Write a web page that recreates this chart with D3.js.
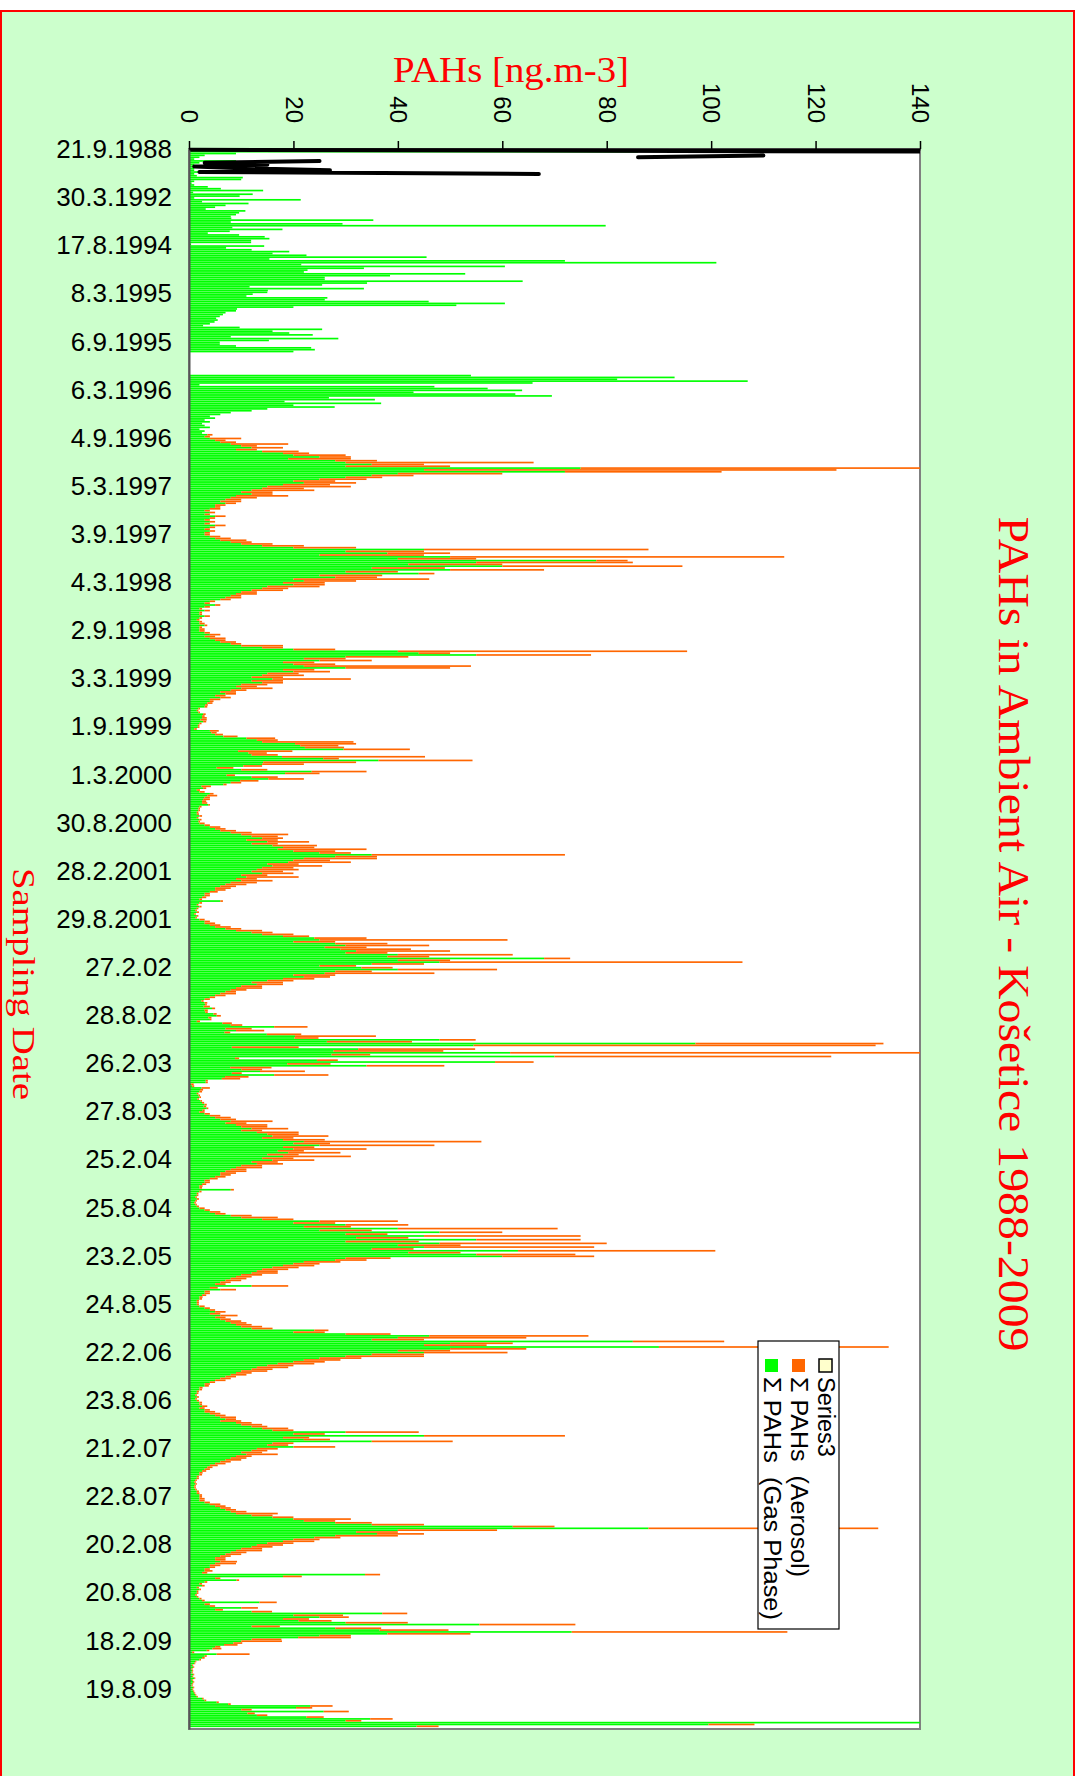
<!DOCTYPE html>
<html>
<head>
<meta charset="utf-8">
<script src="https://cdn.jsdelivr.net/npm/d3@7"></script>
<style>
    body { margin: 0; background: #fff; }
    #chart { width: 1080px; height: 1776px; }
</style>
</head>
<body>
<div id="chart"></div>
<script>

// category labels, one every 26 samples
const dateLabels = ['21.9.1988', '30.3.1992', '17.8.1994', '8.3.1995', '6.9.1995', '6.3.1996', '4.9.1996',
    '5.3.1997', '3.9.1997', '4.3.1998', '2.9.1998', '3.3.1999', '1.9.1999', '1.3.2000', '30.8.2000',
    '28.2.2001', '29.8.2001', '27.2.02', '28.8.02', '26.2.03', '27.8.03', '25.2.04', '25.8.04', '23.2.05',
    '24.8.05', '22.2.06', '23.8.06', '21.2.07', '22.8.07', '20.2.08', '20.8.08', '18.2.09', '19.8.09'];
const labelStep = 26;
const valueTicks = [0, 20, 40, 60, 80, 100, 120, 140];

// Σ PAHs (Gas Phase), one row per label period
const gasPhase = [
    2, 86, 9, 3, 2, 1, 9, 2, 1, 3, 1, 1, 2, 1, 1.5, 10.3, 10, 1, 0.5, 1, 3.6, 6.1, 14.2, 0.8, 12.2, 9.7,
    1, 21.4, 2.5, 11.4, 7, 5, 3.2, 10.8, 9.6, 9, 8, 8.1, 35.3, 8, 29.4, 79.8, 8.3, 17.9, 7.8, 3.6, 9.6, 14.5, 15.4, 11.9, 11.9, 0.4,
    14.4, 7.1, 12, 19.2, 16, 22.5, 45.5, 15.4, 72, 101, 21.5, 60.5, 33.5, 22.7, 22, 52.9, 38.5, 26, 26, 63.9, 34.1, 25.5, 11.6, 33.5, 15.1, 15,
    12.2, 11, 26.5, 26, 45.9, 60.5, 51.2, 20, 9.2, 9, 7, 6.5, 5.9, 5.2, 5.5, 4.9, 4, 2.7, 9.7, 25.5, 16, 19.2, 23.7, 8, 28.6, 15.3,
    5.9, 5.9, 9, 23.4, 24.1, 20, 0, 0, 0, 0, 0, 0, 0, 0, 0, 0, 0, 0, 54, 93, 82, 107, 65.8, 2, 47, 57.2,
    63.8, 43, 62.5, 69.5, 26.8, 35.6, 18.3, 36.8, 20, 27.9, 15, 12, 8, 6, 4, 5, 3, 4, 2.5, 3, 4, 2, 3, 2.5, 3.5, 3,
    4, 5, 6, 8, 10, 12, 9, 14, 18, 20, 25, 19, 28, 30, 35, 30, 75, 45, 72, 40, 35, 30, 25, 20, 22, 18,
    15, 14, 12, 10, 12, 9, 8, 7, 6, 7, 5, 5, 4, 3, 4, 3, 5, 4, 3, 4, 3, 5, 4, 3, 4, 3,
    3, 4, 5, 6, 8, 10, 14, 20, 45, 30, 38, 25, 50, 40, 78, 55, 42, 60, 35, 50, 30, 44, 25, 28, 20, 22,
    18, 20, 15, 14, 12, 10, 9, 8, 7, 6, 4, 3, 5, 3, 2, 3, 2, 2, 3, 2, 1.5, 2, 2, 3, 2, 2,
    2, 3, 4, 3, 4, 5, 6, 8, 10, 14, 20, 40, 44, 55, 30, 22, 25, 18, 20, 22, 30, 18, 20, 15, 14, 12,
    16, 12, 14, 10, 9, 10, 8, 6, 7, 5, 6, 4, 4, 3.5, 3.1, 3, 1.8, 1.5, 1.8, 2.7, 2.5, 2.5, 2.2, 2.7, 2, 1.7,
    1.7, 1, 4, 4.3, 5, 6.6, 11, 13, 14, 20.3, 21.3, 22.2, 29.6, 9.4, 11.4, 12, 17.8, 25.7, 36.3, 14.2, 14, 10.4, 5.3, 10, 23.5, 18.4,
    7.2, 12, 15.2, 9.8, 8, 6.6, 2.4, 2.7, 1.5, 2, 4, 3.5, 3, 2.7, 2.5, 2.5, 3.7, 2, 1.8, 1.8, 1.5, 1.5, 2, 1.5, 2, 1.8,
    2, 3, 4, 5, 6, 8, 10, 12, 14, 11, 15, 12, 16, 18, 17, 20, 25, 35, 28, 22, 20, 19, 15, 16, 14, 13,
    12, 14, 10, 11, 9, 10, 8, 7, 6, 5, 5, 4, 3, 3, 2.5, 2, 6, 2, 1.5, 2, 1.5, 1.2, 1.5, 1, 1.5, 1.2,
    2, 3, 3, 4, 5, 7, 9, 12, 14, 18, 24, 25, 20, 28, 30, 26, 29, 32, 30, 40, 38, 68, 40, 48, 35, 25,
    33, 40, 28, 26, 20, 22, 18, 15, 12, 13, 10, 9, 8, 7, 6, 5, 4, 3, 2.4, 3, 3.1, 2.8, 4.4, 3, 3.1, 4.7,
    5.3, 3.7, 4, 1.5, 6.4, 8, 16.3, 7, 9, 6.8, 14.9, 20.3, 20.2, 48, 26.4, 97, 54.5, 8.2, 32.4, 27.7, 61.5, 27.3, 70, 8.8, 24.5, 58.6,
    18.8, 34, 7.9, 10, 13.6, 8.2, 16.3, 6.9, 6.3, 3.2, 3.2, 0.4, 0.6, 2.4, 2.1, 2, 1.5, 1.8, 2, 1.6, 2.2, 2.5, 3, 2.8, 3.4, 2.6,
    2, 3, 4, 5, 6, 8, 7, 9, 10, 12, 10, 13, 15, 16, 14, 18, 22, 20, 25, 18, 20, 17, 19, 15, 18, 14,
    16, 12, 13, 10, 9, 8, 7, 6, 6, 5, 4, 3, 3, 2.5, 2, 2, 8, 2, 1.5, 1.5, 1.2, 1.5, 1.2, 1, 1.2, 1.5,
    2, 3, 4, 5, 8, 10, 14, 25, 20, 30, 22, 40, 25, 48, 30, 45, 32, 55, 30, 48, 40, 45, 35, 63, 42, 55,
    60, 30, 28, 22, 20, 18, 16, 14, 13, 12, 10, 9, 8, 7, 6, 5, 12, 4, 6, 3, 3, 2.5, 2, 2, 1.5, 1.5,
    1.5, 2, 3, 4, 5, 4, 6, 5, 6, 7, 8, 9, 10, 12, 24, 20, 30, 46, 40, 35, 85, 50, 45, 90, 50, 40,
    45, 35, 30, 25, 22, 20, 17, 15, 13, 12, 10, 9, 8, 7, 6, 5, 4, 3, 3, 2, 2, 1.5, 1.5, 1.2, 1.5, 1.2,
    1.5, 2, 2, 2.5, 2, 3, 3, 4, 5, 6, 7, 6, 9, 10, 12, 14, 16, 30, 20, 45, 18, 22, 35, 16, 15, 20,
    13, 12, 10, 11, 9, 8, 7, 6, 5, 4, 3.5, 3, 2.5, 2, 2, 1.5, 1.5, 1.2, 1, 1.2, 1, 1, 1.2, 1.5, 1.5, 2,
    2, 2, 2, 3, 4, 5, 6, 7, 8, 9, 12, 16, 20, 22, 28, 35, 62, 88, 40, 32, 36, 28, 24, 20, 18, 15,
    13, 12, 10, 9, 8, 7, 6, 5, 5, 6, 5, 4, 4, 3, 3, 2.5, 33.7, 18, 5, 9.1, 3, 2, 2.5, 1.5, 2, 1.5,
    1.5, 1.2, 1.5, 2, 2.5, 13.5, 3, 4, 10, 5, 12, 37, 20, 25, 18, 21, 30, 55.6, 12, 28, 36.5, 73.3, 38, 25, 20.9, 12,
    10, 8.5, 6.7, 5, 4.5, 3.4, 0.6, 5.3, 3, 2.5, 2, 1.2, 1, 0.6, 0.8, 0.5, 0.6, 0.5, 0.8, 0.6, 1, 0.6, 0.8, 0.6, 0.5, 0.8,
    0.6, 0.8, 1, 1.2, 1.5, 2.5, 3, 5.3, 7.5, 23.2, 20.5, 10, 25.8, 11.2, 13, 22.5, 34.7, 30, 145, 99.5, 43.6, 0
];

// Σ PAHs (Aerosol), stacked on top of the gas phase
const aerosol = [
    0, 0, 0, 0, 0, 0, 0, 0, 0, 0, 0, 0, 0, 0, 0, 0, 0, 0, 0, 0, 0, 0, 0, 0, 0, 0,
    0, 0, 0, 0, 0, 0, 0, 0, 0, 0, 0, 0, 0, 0, 0, 0, 0, 0, 0, 0, 0, 0, 0, 0, 0, 0,
    0, 0, 0, 0, 0, 0, 0, 0, 0, 0, 0, 0, 0, 0, 0, 0, 0, 0, 0, 0, 0, 0, 0, 0, 0, 0,
    0, 0, 0, 0, 0, 0, 0, 0, 0, 0, 0, 0, 0, 0, 0, 0, 0, 0, 0, 0, 0, 0, 0, 0, 0, 0,
    0, 0, 0, 0, 0, 0, 0, 0, 0, 0, 0, 0, 0, 0, 0, 0, 0, 0, 0, 0, 0, 0, 0, 0, 0, 0,
    0, 0, 0, 0, 0, 0, 0, 0, 0, 0, 0, 0, 0, 0, 0, 0, 0, 0, 0, 0, 0, 0, 0, 0, 1, 1,
    6, 2, 3, 11, 3, 6, 4, 7, 5, 10, 6, 12, 8, 36, 10, 20, 70, 79, 30, 20, 8, 7, 9, 8, 10, 9,
    16, 8, 12, 6, 4, 10, 5, 3, 4, 2, 2, 1, 2, 1, 1, 1, 2, 1, 1, 1, 1, 2, 1, 1, 1, 1,
    1, 2, 3, 5, 4, 6, 8, 12, 43, 15, 12, 20, 64, 15, 6, 30, 18, 34.5, 14, 18, 10, 3, 12, 8, 26, 10,
    8, 6, 10, 5, 6, 3, 4, 2, 3, 2, 1, 1, 1, 1, 0.5, 1, 0.5, 0.5, 1, 0.5, 0.5, 0.5, 1, 0.5, 0.5, 1,
    1, 1, 2, 2, 3, 2, 3, 2, 8, 4, 8, 55.4, 6, 22, 12, 8, 10, 6, 8, 32, 20, 6, 7, 6, 8, 6,
    15, 6, 4, 5, 4, 6, 3, 3, 2, 2, 2, 2, 0.7, 1, 0.5, 0.5, 0.3, 0.3, 0.3, 0.5, 0.5, 0.9, 1.2, 0.6, 0.4, 0.3,
    0.3, 0.5, 1.7, 1, 1.5, 2.7, 5.5, 4, 17.5, 11.7, 7.3, 7.5, 12.7, 10.4, 3.5, 5, 27.4, 3, 18, 17.8, 8, 3.6, 3.2, 5, 10.5, 6.6,
    1.6, 5, 6.8, 3.5, 2, 0.6, 1.8, 0.6, 0.6, 1, 0.7, 1.9, 1, 1.3, 0.8, 1, 0.3, 0.4, 0.3, 0.3, 0.3, 0.4, 0.5, 0.3, 0.4, 0.3,
    1, 1, 2, 2, 3, 4, 9, 5, 4, 6, 8, 5, 8.5, 6, 17, 8, 6, 37, 8, 14, 7, 12, 6, 9.5, 6, 8,
    6, 6, 5, 10, 4, 6, 5, 4, 3, 3, 2, 1.5, 1, 1, 0.8, 0.5, 0.5, 0.5, 0.3, 0.4, 0.3, 0.3, 0.4, 0.3, 0.3, 0.3,
    1, 1, 2, 2, 3, 3, 5, 4, 6, 5, 10, 36, 8, 10, 16, 8, 13.5, 18, 8, 22, 8, 5, 10, 58, 10, 7,
    6, 19, 7, 21, 8, 5, 6, 5, 6, 5, 4, 5, 3, 2, 3, 2, 1, 1, 0.4, 0.5, 0.3, 1.2, 0.6, 0.6, 0.5, 0.6,
    0.8, 0.6, 0.3, 0.6, 1.8, 2.2, 6.4, 5, 5.4, 1.1, 6.6, 15.5, 4.6, 6.9, 16.3, 36, 77, 12.8, 22.4, 21, 85, 7.4, 53, 0.8, 4, 7.4,
    8.3, 14.9, 7.9, 4, 8.6, 1.9, 10.4, 4.5, 3.5, 0.4, 0.4, 0.5, 0.4, 1.6, 0.6, 0.5, 0.3, 0.3, 0.3, 0.3, 0.3, 0.4, 0.4, 0.5, 0.3, 0.4,
    1, 1, 2, 3, 3, 8, 4, 6, 5, 7, 4, 8, 6, 10.7, 6, 8, 34, 7, 22, 6, 14, 5, 10, 6, 13, 6,
    8, 5, 5, 4, 5, 3, 4, 3, 2, 2, 1.5, 1, 1, 0.8, 0.6, 0.5, 0.6, 0.4, 0.3, 0.3, 0.3, 0.4, 0.3, 0.3, 0.3, 0.4,
    1, 1, 2, 2, 4, 7, 6, 15, 8, 12, 9, 30.6, 10, 12, 8, 30, 10, 20, 14, 32, 12, 32.6, 8, 37.8, 10, 19,
    17.6, 8.6, 6, 7, 5, 6, 5, 5, 4, 5, 4, 3, 3, 3, 2, 2, 7, 1.5, 3, 1, 1, 0.8, 0.6, 0.5, 0.4, 0.4,
    0.4, 1, 1, 1, 2, 2, 3.3, 2, 2, 3, 3, 3, 4, 4, 2.7, 6, 8.6, 30.5, 24.6, 10, 17.5, 12, 12, 44, 14.6, 10,
    16, 10, 15, 8, 7, 6, 7, 5, 6, 4, 5, 3, 3, 2, 2, 2, 1, 1, 0.8, 0.6, 0.5, 0.4, 0.3, 0.3, 0.4, 0.3,
    0.4, 0.5, 0.5, 1, 1, 1, 2, 2, 2, 3, 2, 4, 3, 4, 3, 5, 4, 14, 6, 27, 5, 5, 15.5, 4, 4, 8,
    4, 3, 4, 6, 3, 3, 3, 2, 2, 1.5, 1, 1, 0.8, 0.6, 0.5, 0.4, 0.4, 0.3, 0.3, 0.3, 0.3, 0.3, 0.3, 0.4, 0.5, 0.5,
    0.5, 1, 1, 1, 2, 2, 2, 2, 3, 8, 4, 4, 11, 6, 7, 10, 8, 44, 19, 8, 9, 12, 5, 5, 6, 5,
    5, 4, 4, 5, 3, 3, 2, 2, 2, 3.2, 4, 2, 1, 1, 1.5, 1, 2.9, 3.6, 1, 0.5, 0.5, 0.5, 0.5, 0.4, 0.3, 0.3,
    0.3, 0.3, 0.3, 0.4, 0.5, 3.3, 1, 1, 3.2, 1.5, 3.9, 4.8, 9.5, 5.6, 5, 6.3, 11.9, 18.4, 5.4, 8.8, 13.2, 41.3, 15.9, 6, 10.1, 5.7,
    7.8, 1.7, 2.6, 1, 1.7, 0.5, 0.4, 6.3, 0.4, 0.5, 0.3, 0.2, 0.2, 0.2, 0.2, 0.2, 0.2, 0.2, 0.2, 0.2, 0.2, 0.2, 0.2, 0.2, 0.2, 0.2,
    0.2, 0.2, 0.2, 0.2, 0.2, 0.3, 0.3, 0.4, 0.5, 4.3, 3.1, 2, 4.8, 1.4, 2, 3.3, 4.3, 3, 0, 8.8, 4.2, 0
];

// Series3: only the first samples (1988-1991), drawn as a thick line, gaps as null
const series3 = [0, 145, null, 110, 86, null, 25, 3, 15, 1, 10, 27, 2, 67];

const seriesNames = ['Series3', 'Σ PAHs  (Aerosol)', 'Σ PAHs  (Gas Phase)'];


class StackedBarVis {

    constructor(parentElement) {
        this.parentElement = parentElement;

        this.colors = {gas: '#00ff00', aerosol: '#ff6600', series3: '#000000'};

        this.initVis();
    }

    initVis() {
        let vis = this;

        vis.width = 1080;
        vis.height = 1776;
        vis.plot = {left: 189, top: 149, right: 920, bottom: 1729};

        vis.svg = d3.select('#' + vis.parentElement).append('svg')
            .attr('width', vis.width)
            .attr('height', vis.height);

        // page background with red frame
        vis.svg.append('rect')
            .attr('x', 1).attr('y', 11)
            .attr('width', 1073).attr('height', vis.height)
            .attr('fill', '#ccffcc')
            .attr('stroke', '#ff0000')
            .attr('stroke-width', 2);

        // plot area
        vis.svg.append('rect')
            .attr('x', vis.plot.left).attr('y', vis.plot.top)
            .attr('width', vis.plot.right - vis.plot.left)
            .attr('height', vis.plot.bottom - vis.plot.top)
            .attr('fill', '#ffffff')
            .attr('stroke', '#808080')
            .attr('stroke-width', 2);

        vis.svg.append('clipPath')
            .attr('id', 'plot-clip')
            .append('rect')
            .attr('x', vis.plot.left).attr('y', vis.plot.top - 2)
            .attr('width', vis.plot.right - vis.plot.left)
            .attr('height', vis.plot.bottom - vis.plot.top + 2);

        // scales
        vis.x = d3.scaleLinear()
            .domain([0, 140])
            .range([vis.plot.left, vis.plot.right]);

        vis.y = d3.scaleBand()
            .domain(d3.range(gasPhase.length))
            .range([vis.plot.top, vis.plot.bottom])
            .paddingInner(0.1);

        vis.chartArea = vis.svg.append('g')
            .attr('clip-path', 'url(#plot-clip)');

        vis.wrangleData();
    }

    wrangleData() {
        let vis = this;

        vis.displayData = gasPhase.map((g, i) => ({
            index: i,
            gas: g,
            aerosol: aerosol[i] || 0
        }));

        vis.updateVis();
    }

    updateVis() {
        let vis = this;
        let bw = vis.y.bandwidth();

        // gas phase bars
        vis.chartArea.append('g').selectAll('rect')
            .data(vis.displayData)
            .enter().append('rect')
            .attr('x', vis.x(0))
            .attr('y', d => vis.y(d.index))
            .attr('width', d => vis.x(d.gas) - vis.x(0))
            .attr('height', bw)
            .attr('fill', vis.colors.gas);

        // aerosol bars stacked on top
        vis.chartArea.append('g').selectAll('rect')
            .data(vis.displayData.filter(d => d.aerosol > 0))
            .enter().append('rect')
            .attr('x', d => vis.x(d.gas))
            .attr('y', d => vis.y(d.index))
            .attr('width', d => vis.x(d.gas + d.aerosol) - vis.x(d.gas))
            .attr('height', bw)
            .attr('fill', vis.colors.aerosol);

        // Series3 line
        let line = d3.line()
            .defined(d => d != null)
            .x(d => vis.x(d))
            .y((d, i) => vis.y(i) + bw / 2);

        vis.chartArea.append('path')
            .datum(series3)
            .attr('d', line)
            .attr('fill', 'none')
            .attr('stroke', vis.colors.series3)
            .attr('stroke-width', 4)
            .attr('stroke-linecap', 'round')
            .attr('stroke-linejoin', 'round');

        // category axis (left)
        let yAxis = d3.axisLeft(vis.y)
            .tickValues(d3.range(0, gasPhase.length, labelStep))
            .tickFormat((d, i) => dateLabels[i])
            .tickSize(0)
            .tickSizeOuter(0)
            .tickPadding(17);

        let yAxisG = vis.svg.append('g')
            .attr('transform', `translate(${vis.plot.left},0)`)
            .call(yAxis);
        yAxisG.select('.domain').attr('stroke', '#555').attr('stroke-width', 2);
        yAxisG.selectAll('text')
            .attr('font-family', '"Liberation Sans", Arial, sans-serif')
            .attr('font-size', 26)
            .attr('fill', '#000');

        // value axis (top), labels rotated
        let xAxis = d3.axisTop(vis.x)
            .tickValues(valueTicks)
            .tickSize(8)
            .tickSizeOuter(0);

        let xAxisG = vis.svg.append('g')
            .attr('transform', `translate(0,${vis.plot.top})`)
            .call(xAxis);
        xAxisG.select('.domain').attr('stroke', '#000').attr('stroke-width', 2);
        xAxisG.selectAll('.tick line').attr('stroke', '#000').attr('stroke-width', 1.5);
        xAxisG.selectAll('text')
            .attr('x', 0).attr('y', 0)
            .attr('dy', '0.35em')
            .attr('transform', 'translate(0,-26) rotate(90)')
            .attr('text-anchor', 'end')
            .attr('font-family', '"Liberation Sans", Arial, sans-serif')
            .attr('font-size', 24)
            .attr('fill', '#000');

        // titles
        let serif = '"Liberation Serif", "Times New Roman", serif';

        vis.svg.append('text')
            .attr('x', 511).attr('y', 82)
            .attr('text-anchor', 'middle')
            .attr('font-family', serif)
            .attr('font-size', 36)
            .attr('fill', '#ff0000')
            .attr('textLength', 236)
            .attr('lengthAdjust', 'spacingAndGlyphs')
            .text('PAHs [ng.m-3]');

        vis.svg.append('text')
            .attr('transform', 'translate(999,934) rotate(90)')
            .attr('text-anchor', 'middle')
            .attr('font-family', serif)
            .attr('font-size', 44)
            .attr('fill', '#ff0000')
            .attr('textLength', 835)
            .attr('lengthAdjust', 'spacingAndGlyphs')
            .text('PAHs in Ambient Air - Košetice 1988-2009');

        vis.svg.append('text')
            .attr('transform', 'translate(13,984) rotate(90)')
            .attr('text-anchor', 'middle')
            .attr('font-family', serif)
            .attr('font-size', 31)
            .attr('fill', '#ff0000')
            .attr('textLength', 232)
            .attr('lengthAdjust', 'spacingAndGlyphs')
            .text('Sampling Date');

        // legend
        vis.legend = vis.svg.append('g')
            .attr('class', 'legend')
            .attr('transform', 'translate(758,1341)');

        vis.legend.append('rect')
            .attr('width', 81).attr('height', 288)
            .attr('fill', '#ffffff')
            .attr('stroke', '#000')
            .attr('stroke-width', 1.2);

        let legendItems = [
            {name: seriesNames[0], fill: '#ffffcc', stroke: '#000', len: 80},
            {name: seriesNames[1], fill: vis.colors.aerosol, stroke: 'none', len: 200},
            {name: seriesNames[2], fill: vis.colors.gas, stroke: 'none', len: 243}
        ];

        let items = vis.legend.selectAll('.legend-item')
            .data(legendItems)
            .enter().append('g')
            .attr('class', 'legend-item')
            .attr('transform', (d, i) => `translate(${67.5 - i * 27},0)`);

        items.append('rect')
            .attr('x', -6.5).attr('y', 18)
            .attr('width', 13).attr('height', 13)
            .attr('fill', d => d.fill)
            .attr('stroke', d => d.stroke)
            .attr('stroke-width', 1.5);

        items.append('text')
            .attr('transform', 'translate(-8,36) rotate(90)')
            .attr('font-family', '"Liberation Sans", Arial, sans-serif')
            .attr('font-size', 23.5)
            .attr('fill', '#000')
            .style('white-space', 'pre')
            .attr('textLength', d => d.len)
            .attr('lengthAdjust', 'spacingAndGlyphs')
            .text(d => d.name);
    }
}

new StackedBarVis('chart');

</script>
</body>
</html>
